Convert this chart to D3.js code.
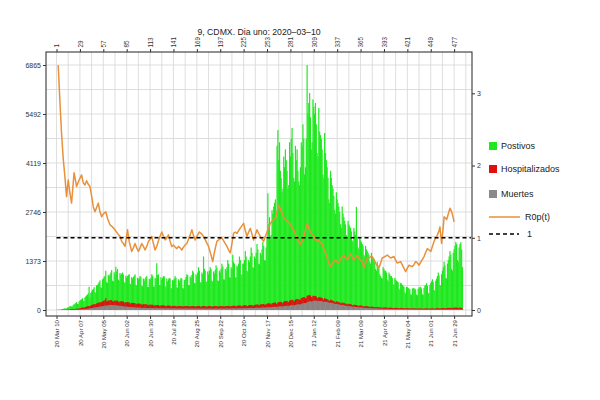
<!DOCTYPE html>
<html>
<head>
<meta charset="utf-8">
<script src="https://cdn.jsdelivr.net/npm/d3@7"></script>
<style>
  html, body { margin: 0; padding: 0; background: #ffffff; }
  svg { display: block; font-family: "Liberation Sans", Arial, sans-serif; }
</style>
</head>
<body>
<script>
// ---------------- DATA ----------------
const chartTitle = "9, CDMX.  Dia uno: 2020–03–10";

// Daily new positives, day 1 = 2020-03-10 (weekly rows, Tue..Mon)
const positivos = [
  4,6,9,12,8,10,18,
  25,32,40,48,36,40,62,
  75,88,102,118,90,95,140,
  160,175,195,220,170,165,240,
  260,285,300,330,260,250,350,
  380,410,430,470,650,360,480,
  520,560,590,640,500,480,690,
  700,740,780,830,640,620,860,
  880,930,960,1100,780,760,980,
  950,1000,1050,1120,820,800,1060,
  1000,1213,1080,1150,850,820,1040,
  980,1020,1050,1000,780,760,960,
  900,950,980,1000,740,720,920,
  880,920,960,1000,700,690,900,
  860,900,950,930,680,660,880,
  820,880,920,950,650,640,870,
  850,900,1000,960,660,650,900,
  880,1310,980,1000,700,690,920,
  850,900,950,940,660,650,880,
  800,860,900,880,620,600,840,
  820,880,950,900,640,620,860,
  800,850,900,880,620,600,840,
  850,920,1000,980,700,690,940,
  900,980,1100,1050,760,750,1000,
  950,1050,1200,1100,780,760,1050,
  1000,1500,1150,1100,800,790,1080,
  1000,1100,1200,1150,820,800,1080,
  1020,1120,1250,1180,830,810,1100,
  1050,1150,1300,1220,860,850,1150,
  1100,1200,1400,1300,920,900,1200,
  1150,1550,1350,1300,920,900,1250,
  1200,1300,1500,1400,1000,980,1300,
  1300,1400,1650,1500,1100,1080,1400,
  1350,1500,1750,1600,1200,1180,1500,
  1450,1600,1850,1700,1300,1280,1600,
  1550,1700,1900,1800,1400,1380,1750,
  2000,3270,2400,2600,2000,2100,2800,
  2700,2900,3000,3100,2600,4600,5040,
  4200,4700,3900,3700,3300,3400,4300,
  4000,4500,4200,3900,3400,3500,4700,
  4300,4800,5100,4400,3700,3600,4600,
  4200,4500,3900,3600,3500,4000,4700,
  4600,5200,4800,3800,4000,4800,6865,
  5500,5800,6080,5400,4500,4700,5900,
  5700,5500,5800,5200,4400,4300,5660,
  5000,4900,4800,4500,3800,3700,4960,
  4400,4200,4000,3700,3100,3000,3900,
  3700,3500,3400,3200,2800,2700,3300,
  3100,3000,2900,2750,2400,2300,2900,
  2700,2600,2500,2400,2100,2050,2500,
  2400,2350,2300,2200,1950,1900,2300,
  2200,2100,2890,2000,1750,1700,2050,
  1950,1900,1850,1800,1550,1500,1800,
  1700,1650,1600,1550,1350,1300,1600,
  1500,1450,1400,1350,1150,1100,1350,
  1250,1150,1000,950,900,880,1200,
  1150,1100,1100,1050,850,800,1050,
  1000,950,950,900,720,700,900,
  850,820,800,780,600,560,760,
  740,700,680,650,500,460,650,
  640,620,600,580,440,420,600,
  620,600,600,570,430,410,590,
  640,620,650,600,440,420,620,
  680,700,750,680,480,460,700,
  760,800,860,780,560,540,820,
  880,950,1050,960,700,680,1000,
  1100,1200,1350,1250,900,880,1300,
  1400,1500,1650,1550,1150,1100,1600,
  1700,1800,1910,1850,1400,1350,1750,
  1850,1900,1700,1200
];

// Daily hospitalised
const hospitalizados = [
  0,0,1,1,1,2,2,
  3,4,5,6,6,7,9,
  10,12,14,16,15,17,20,
  24,27,30,34,32,35,42,
  48,54,60,66,62,64,78,
  85,92,100,110,105,108,125,
  135,145,155,165,160,162,180,
  190,200,210,220,210,215,240,
  250,270,260,330,245,240,265,
  260,280,270,275,240,235,260,
  250,270,255,260,225,220,245,
  240,245,235,240,205,200,225,
  215,220,210,215,185,180,200,
  195,200,190,195,165,160,180,
  175,180,170,175,150,145,165,
  160,165,155,160,135,130,150,
  145,150,145,148,125,120,140,
  135,140,135,138,115,112,130,
  125,130,125,128,108,105,120,
  118,122,120,122,102,100,115,
  112,116,114,116,98,96,110,
  110,114,112,114,96,94,108,
  108,112,110,112,95,93,106,
  107,111,109,111,94,92,105,
  106,110,108,110,93,91,104,
  106,110,108,110,93,91,104,
  106,110,108,110,93,91,105,
  107,111,109,111,94,92,106,
  108,112,110,112,95,93,108,
  110,114,112,116,98,96,112,
  114,118,116,120,102,100,118,
  120,124,122,126,106,104,122,
  126,130,128,134,112,110,130,
  134,140,138,144,120,118,140,
  146,152,150,156,132,128,152,
  160,166,164,170,145,142,168,
  178,184,182,190,160,158,188,
  196,204,202,210,178,176,208,
  218,226,225,232,200,196,232,
  244,252,250,258,222,220,260,
  272,282,280,288,250,246,290,
  300,310,305,296,270,285,330,
  340,355,360,350,320,340,400,
  405,410,420,400,360,355,400,
  390,395,388,375,335,325,365,
  355,350,345,338,300,292,330,
  315,308,300,290,260,252,285,
  275,270,260,250,220,212,245,
  235,230,220,212,188,180,210,
  200,195,188,180,160,155,178,
  170,165,160,154,136,130,150,
  145,140,136,130,115,110,128,
  124,120,116,112,98,94,110,
  106,102,100,96,84,80,95,
  92,88,86,83,72,70,82,
  80,76,72,68,62,60,72,
  72,70,68,66,58,55,65,
  64,62,60,58,52,50,58,
  58,56,55,53,47,45,53,
  53,51,50,48,43,41,48,
  48,47,46,44,40,38,45,
  45,44,43,42,37,36,42,
  43,42,42,40,36,35,41,
  42,42,43,41,36,35,42,
  43,44,45,43,38,36,45,
  46,48,50,48,42,40,50,
  52,54,56,54,46,44,56,
  58,60,62,60,52,50,62,
  64,66,68,66,56,54,66,
  66,64,55,40
];

// Daily deaths
const muertes = [
  0,0,0,0,0,0,0,
  0,1,1,1,1,1,2,
  2,3,3,4,4,4,5,
  6,7,8,9,9,10,12,
  14,16,18,20,20,21,25,
  28,32,36,40,40,43,48,
  52,57,62,67,66,69,76,
  80,85,90,96,95,98,104,
  108,114,120,126,122,124,132,
  136,138,140,142,134,130,136,
  134,132,128,126,118,114,118,
  114,110,106,102,96,93,96,
  94,90,87,84,79,77,80,
  78,76,73,71,67,66,68,
  67,65,63,62,58,57,60,
  59,58,57,56,53,52,55,
  55,54,53,52,49,48,51,
  51,50,49,49,46,45,48,
  48,47,46,46,43,43,46,
  46,45,44,44,42,41,44,
  44,44,43,43,40,40,42,
  43,42,42,41,39,39,41,
  42,41,41,41,38,38,40,
  41,41,40,40,38,37,40,
  41,40,40,40,37,37,39,
  40,40,40,39,37,37,39,
  40,40,39,39,37,36,39,
  40,40,40,40,37,37,40,
  41,41,41,41,38,38,41,
  42,43,43,43,40,40,43,
  44,45,45,46,42,42,46,
  47,48,48,49,45,45,49,
  50,52,52,53,49,48,53,
  55,57,57,58,53,52,58,
  60,62,63,64,59,58,64,
  66,69,70,71,65,64,72,
  74,77,78,80,73,72,81,
  84,87,88,91,83,82,92,
  96,100,101,104,95,94,106,
  110,115,116,120,110,108,122,
  128,134,135,140,128,126,142,
  148,155,156,160,150,152,170,
  175,185,190,195,188,195,215,
  225,235,240,245,232,230,250,
  258,262,262,260,248,244,256,
  252,250,246,242,230,226,236,
  232,228,222,216,204,198,206,
  200,194,188,182,170,165,172,
  168,162,156,150,140,136,142,
  138,132,127,122,114,110,115,
  110,106,102,98,92,89,93,
  88,85,82,79,74,72,75,
  71,69,67,65,61,59,62,
  58,56,55,53,50,49,51,
  48,47,46,45,42,41,43,
  40,39,38,37,35,34,36,
  34,33,33,32,30,29,31,
  29,29,28,28,26,25,27,
  26,25,25,24,23,22,24,
  23,22,22,22,20,20,21,
  20,20,20,19,18,18,19,
  18,18,18,18,16,16,17,
  17,17,16,16,15,15,16,
  16,16,16,16,14,14,15,
  15,15,15,15,14,14,15,
  15,15,15,15,14,13,15,
  15,15,15,15,14,14,15,
  15,16,16,16,14,14,16,
  16,16,16,16,15,14,16,
  16,15,14,10
];

// R0p(t) (right axis): day and value
const rDays = [3,5,7,9,11,13,15,17,19,22,25,28,31,33,35,37,39,41,43,45,47,49,51,53,55,57,60,62,65,68,71,74,77,79,81,83,86,88,91,93,95,97,99,101,103,105,107,109,111,113,115,117,119,121,123,125,127,129,131,133,135,137,139,141,143,145,147,149,151,153,155,157,159,161,163,165,167,170,172,175,177,180,183,186,188,190,193,196,199,202,205,207,209,211,213,215,217,219,222,225,227,229,231,233,235,237,239,241,243,245,247,249,251,253,255,257,260,263,265,267,269,271,273,275,277,279,282,285,287,289,291,293,295,297,299,301,303,305,307,309,311,313,315,317,319,321,323,325,327,329,331,333,335,337,339,341,343,345,347,349,351,353,355,357,359,361,363,365,367,369,371,373,376,379,381,383,385,387,389,391,394,397,399,401,403,405,407,409,411,413,416,419,421,423,425,427,429,431,433,435,438,441,443,445,447,449,451,453,455,457,459,460,462,464,465,467,468,470,472,474,475,477];
const rValues = [3.39,2.9,2.45,2.1,1.85,1.57,1.80,1.62,1.48,1.90,1.71,1.80,1.87,1.76,1.73,1.79,1.74,1.71,1.58,1.43,1.36,1.42,1.48,1.36,1.29,1.33,1.36,1.27,1.18,1.15,1.11,1.06,1.02,0.95,0.92,0.88,1.11,0.95,0.81,0.86,0.92,0.86,0.81,0.86,0.92,0.88,0.83,0.88,0.95,0.98,1.02,0.92,0.83,0.88,0.96,1.02,1.08,1.02,0.97,1.00,1.04,0.95,0.88,0.90,0.87,0.85,0.88,0.86,0.83,0.87,0.90,0.92,0.98,1.04,1.11,1.03,0.97,1.04,1.08,1.05,1.02,0.95,0.88,0.76,0.67,0.80,0.95,0.98,1.00,0.94,0.88,0.83,0.79,0.92,1.06,1.08,1.06,1.10,1.15,1.20,1.10,1.02,1.08,1.13,1.05,0.97,1.04,1.11,1.06,1.02,0.98,0.95,1.02,1.08,1.14,1.20,1.24,1.27,1.36,1.45,1.40,1.34,1.29,1.25,1.23,1.22,1.16,1.11,1.05,1.00,0.95,0.91,0.96,1.02,1.11,1.20,1.14,1.08,1.05,1.02,0.97,0.95,0.97,0.94,0.91,0.85,0.79,0.72,0.65,0.60,0.64,0.67,0.69,0.66,0.65,0.70,0.74,0.76,0.72,0.69,0.74,0.78,0.73,0.69,0.73,0.76,0.72,0.69,0.67,0.58,0.65,0.72,0.73,0.74,0.70,0.65,0.61,0.58,0.65,0.72,0.74,0.76,0.74,0.72,0.73,0.74,0.69,0.65,0.66,0.67,0.60,0.53,0.58,0.62,0.61,0.60,0.63,0.67,0.65,0.62,0.68,0.74,0.80,0.85,0.83,0.81,0.88,0.95,1.00,1.04,1.10,1.15,0.92,1.15,1.29,1.27,1.25,1.33,1.41,1.36,1.32,1.22];

// Axis ticks
const leftTicks = [0, 1373, 2746, 4119, 5492, 6865];
const rightTicks = [0, 1, 2, 3];
const topTickDays = [1,29,57,85,113,141,169,197,225,253,281,309,337,365,393,421,449,477];
const topTickLabels = ["1","29","57","85","113","141","169","197","225","253","281","309","337","365","393","421","449","477"];
const bottomTickLabels = ["20 Mar 10","20 Apr 07","20 May 05","20 Jun 02","20 Jun 30","20 Jul 28","20 Aug 25","20 Sep 22","20 Oct 20","20 Nov 17","20 Dec 15","21 Jan 12","21 Feb 09","21 Mar 09","21 Apr 06","21 May 04","21 Jun 01","21 Jun 29"];

const legendLabels = ["Postivos", "Hospitalizados", "Muertes", "R0p(t)", "1"];
const refLevel = 1;

// ---------------- LAYOUT ----------------
const W = 600, H = 400;
const frame = { left: 46, right: 472, top: 52, bottom: 316 };
const colGreen = "#1ee81e", colRed = "#e01010", colGray = "#8a8a8a", colOrange = "#e8913a";
const axisCol = "#333";

const svg = d3.select("body").append("svg").attr("width", W).attr("height", H);

const x = d3.scaleLinear().domain([-11.6, 498.4]).range([frame.left, frame.right]);
const yL = d3.scaleLinear().domain([0, 6865]).range([310, 65]);
const yR = d3.scaleLinear().domain([0, 3]).range([310, 93.3]);

// grid
const gGrid = svg.append("g").attr("stroke", "#d6d6d6").attr("stroke-width", 0.8);
gGrid.selectAll("line.v").data(d3.range(1, 498, 14)).join("line")
  .attr("x1", d => x(d)).attr("x2", d => x(d))
  .attr("y1", frame.top).attr("y2", frame.bottom);
gGrid.selectAll("line.h").data(d3.range(0, 6866, 686.5)).join("line")
  .attr("x1", frame.left).attr("x2", frame.right)
  .attr("y1", d => yL(d)).attr("y2", d => yL(d));

// bars
const step = x(2) - x(1);
const bw = step + 0.35;
function bars(data, color) {
  svg.append("g").selectAll("rect").data(data).join("rect")
    .attr("x", (d, i) => x(i + 1) - bw / 2)
    .attr("width", bw)
    .attr("y", d => yL(d))
    .attr("height", d => yL(0) - yL(d))
    .attr("fill", color);
}
bars(positivos, colGreen);
bars(hospitalizados, colRed);
bars(muertes, colGray);

// R0p line
const rPts = rDays.map((d, i) => [d, rValues[i]]);
svg.append("path").datum(rPts)
  .attr("fill", "none").attr("stroke", colOrange).attr("stroke-width", 1.5)
  .attr("stroke-linejoin", "round")
  .attr("d", d3.line().x(d => x(d[0])).y(d => yR(d[1])));

// reference line at 1
svg.append("line")
  .attr("x1", x(1)).attr("x2", x(497))
  .attr("y1", yR(refLevel)).attr("y2", yR(refLevel))
  .attr("stroke", "#000").attr("stroke-width", 1.6).attr("stroke-dasharray", "4,3");

// frame
svg.append("rect")
  .attr("x", frame.left).attr("y", frame.top)
  .attr("width", frame.right - frame.left).attr("height", frame.bottom - frame.top)
  .attr("fill", "none").attr("stroke", "#222").attr("stroke-width", 1);

function styleAxis(g, size) {
  g.select(".domain").remove();
  g.selectAll("line").attr("stroke", axisCol);
  g.selectAll("text").attr("fill", axisCol).style("font-size", size + "px")
    .style("font-family", '"Liberation Sans", Arial, sans-serif');
}

// left axis
svg.append("g").attr("transform", `translate(${frame.left},0)`)
  .call(d3.axisLeft(yL).tickValues(leftTicks).tickSize(3).tickPadding(2).tickFormat(d => String(d)))
  .call(g => styleAxis(g, 7));

// right axis
svg.append("g").attr("transform", `translate(${frame.right},0)`)
  .call(d3.axisRight(yR).tickValues(rightTicks).tickSize(3).tickPadding(2).tickFormat(d => String(d)))
  .call(g => styleAxis(g, 7));

// top axis
svg.append("g").attr("transform", `translate(0,${frame.top})`)
  .call(d3.axisTop(x).tickValues(topTickDays).tickSize(3).tickFormat((d, i) => topTickLabels[i]))
  .call(g => styleAxis(g, 6.3))
  .call(g => g.selectAll("text")
    .attr("transform", "rotate(-90)").attr("x", 4.5).attr("y", 0).attr("dy", "0.35em")
    .attr("text-anchor", "start"));

// bottom axis
svg.append("g").attr("transform", `translate(0,${frame.bottom})`)
  .call(d3.axisBottom(x).tickValues(topTickDays).tickSize(3).tickFormat((d, i) => bottomTickLabels[i]))
  .call(g => styleAxis(g, 6.1))
  .call(g => g.selectAll("text")
    .attr("transform", "rotate(-90)").attr("x", -4).attr("y", 0).attr("dy", "0.35em")
    .attr("text-anchor", "end"));

// title
svg.append("text").attr("x", (frame.left + frame.right) / 2).attr("y", 35)
  .attr("text-anchor", "middle").attr("fill", "#222")
  .style("font-size", "8.7px").text(chartTitle);

// legend
const lg = svg.append("g").style("font-size", "9px").attr("fill", "#222");
const legendSwatch = [colGreen, colRed, colGray];
const legendY = [146, 169, 194, 217, 234];
legendSwatch.forEach((c, i) => {
  lg.append("rect").attr("x", 489).attr("y", legendY[i] - 4).attr("width", 8).attr("height", 8).attr("fill", c);
  lg.append("text").attr("x", 501).attr("y", legendY[i]).attr("dy", "0.35em").text(legendLabels[i]);
});
lg.append("line").attr("x1", 489).attr("x2", 520).attr("y1", legendY[3]).attr("y2", legendY[3])
  .attr("stroke", colOrange).attr("stroke-width", 1.5);
lg.append("text").attr("x", 525).attr("y", legendY[3]).attr("dy", "0.35em").text(legendLabels[3]);
lg.append("line").attr("x1", 489).attr("x2", 519).attr("y1", legendY[4]).attr("y2", legendY[4])
  .attr("stroke", "#000").attr("stroke-width", 1.6).attr("stroke-dasharray", "4,3");
lg.append("text").attr("x", 527).attr("y", legendY[4]).attr("dy", "0.35em").text(legendLabels[4]);
</script>
</body>
</html>
